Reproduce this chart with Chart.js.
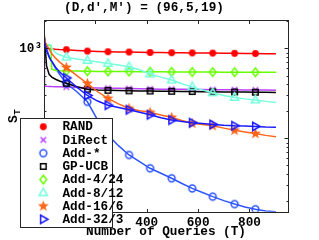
<!DOCTYPE html>
<html><head><meta charset="utf-8">
<script src="https://cdn.jsdelivr.net/npm/chart.js@4/dist/chart.umd.min.js"></script>
<style>html,body{margin:0;padding:0;background:#fff;overflow:hidden}</style>
</head><body>
<canvas id="c" width="319" height="240"></canvas>
<script>
// ---- data ----
const queries = [0,2,5,10,20,27,30,45,60,87,128,169,209,249,290,331,372,413,455,497,537,577,617,657,700,742,782,823,863,903];
const markerQueries = [87,169,249,331,413,497,577,657,742,823];
const seriesNames = ['RAND','DiRect','Add-*','GP-UCB','Add-4/24','Add-8/12','Add-16/6','Add-32/3'];
const randS   = [1300,1150,1060,1020,1000,990,988,980,975,970,950,935,925,920,915,912,908,903,900,897,895,893,890,888,885,883,880,878,875,872];
const directS = [900,380,380,379,378,378,377,376,375,372,369,366,364,362,360,358,356,354,353,352,351,350,349,348,347,347,346,345,345,344];
const addStarS= [1350,1250,1150,1000,820,750,720,600,520,408,330,255,160,109,83,65.4,55,46.5,41,36,31.5,27.8,25,22.5,20.3,18.6,17.3,16.3,15.6,15.3];
const gpucbS  = [1300,1200,1000,640,515,490,480,455,435,410,375,352,345,342,340,338,337,336,335,334,333,332,331,330,329,328,327,326,325,324];
const add4S   = [1150,1120,1100,1090,1080,1070,590,570,565,562,560,558,556,555,554,553,552,551,550,549,548,547,546,546,545,545,544,544,543,543];
const add8S   = [1250,1150,1120,1110,1100,1090,1000,900,850,800,765,735,705,680,655,625,580,520,480,445,405,374,345,321,300,285,275,267,258,251];
const add16S  = [1400,1250,1180,1100,980,910,880,780,710,615,500,408,330,278,242,216,203,195,182,171,158,147,143,138,130,123,118,113,108,104];
const add32S  = [1300,1200,1100,950,800,740,720,620,550,470,370,300,260,234,220,208,195,183,170,160,154,149,146,143,140,138,137,136,134,133];
const xTickValues = [0,200,400,600,800];
const titleText = '(D,d\u2032,M\u2032) = (96,5,19)';
const xTitle = 'Number of Queries (T)';

const seriesValues = [randS, directS, addStarS, gpucbS, add4S, add8S, add16S, add32S];
const colors  = ['#ff0000','#b940ff','#2e55ff','#000000','#66ff00','#77ffdd','#ff6619','#1a1aff'];
const markers = ['dot','x','o','s','d','^','p','>'];

const FONT = "'Liberation Mono', 'DejaVu Sans Mono', monospace";

function makeMarker(type, color) {
  const S = 15, c = document.createElement('canvas');
  c.width = S; c.height = S;
  const g = c.getContext('2d');
  const m = S / 2;
  g.strokeStyle = color; g.fillStyle = color; g.lineWidth = 1.5;
  g.beginPath();
  if (type === 'dot') { g.arc(m, m, 3.4, 0, Math.PI * 2); g.fill(); }
  else if (type === 'x') { const r = 2.8; g.moveTo(m-r,m-r); g.lineTo(m+r,m+r); g.moveTo(m+r,m-r); g.lineTo(m-r,m+r); g.stroke(); }
  else if (type === 'o') { g.arc(m, m, 3.4, 0, Math.PI * 2); g.stroke(); }
  else if (type === 's') { g.rect(m-2.8, m-2.8, 5.6, 5.6); g.stroke(); }
  else if (type === 'd') { const r = 4.2; g.moveTo(m, m-r); g.lineTo(m+r*0.8, m); g.lineTo(m, m+r); g.lineTo(m-r*0.8, m); g.closePath(); g.stroke(); }
  else if (type === '^') { const r = 4.6; g.moveTo(m, m-r); g.lineTo(m+r*0.9, m+r*0.6); g.lineTo(m-r*0.9, m+r*0.6); g.closePath(); g.stroke(); }
  else if (type === '>') { const r = 4.6; g.moveTo(m+r, m); g.lineTo(m-r*0.6, m-r*0.9); g.lineTo(m-r*0.6, m+r*0.9); g.closePath(); g.stroke(); }
  else if (type === 'p') {
    const R = 5.8, r = 2.4;
    for (let i = 0; i < 10; i++) {
      const a = -Math.PI/2 + i * Math.PI / 5, rr = i % 2 ? r : R;
      const px = m + rr * Math.cos(a), py = m + rr * Math.sin(a);
      i ? g.lineTo(px, py) : g.moveTo(px, py);
    }
    g.closePath(); g.fill();
  }
  return c;
}
const markerImgs = markers.map((t, i) => makeMarker(t, colors[i]));

const datasets = seriesNames.map((name, i) => ({
  label: name,
  data: queries.map((q, j) => ({x: q, y: seriesValues[i][j]})),
  borderColor: colors[i],
  backgroundColor: colors[i],
  borderWidth: 1.5,
  pointStyle: markerImgs[i],
  pointRadius: ctx => markerQueries.includes(queries[ctx.dataIndex]) ? 4 : 0,
  pointHoverRadius: 0,
  tension: 0,
  order: seriesNames.length - i
}));

const decorPlugin = {
  id: 'decor',
  afterDraw(chart) {
    const {ctx, chartArea: a, scales: {x, y}} = chart;
    ctx.save();
    // frame
    ctx.strokeStyle = '#262626'; ctx.lineWidth = 1;
    const L = Math.round(a.left) + 0.5, R = Math.round(a.right) + 0.5, T = Math.round(a.top) + 0.5, B = Math.round(a.bottom) + 0.5;
    ctx.strokeRect(L, T, R - L, B - T);
    ctx.beginPath();
    xTickValues.forEach(v => {
      const px = Math.round(x.getPixelForValue(v)) + 0.5;
      ctx.moveTo(px, B); ctx.lineTo(px, B - 3.5);
      ctx.moveTo(px, T); ctx.lineTo(px, T + 3.5);
    });
    for (let d = 10; d <= 1000; d *= 10) {
      for (let k = 1; k <= 9; k++) {
        const v = d * k;
        if (v < y.min || v > y.max) continue;
        const len = k === 1 ? 4 : 2;
        const py = Math.round(y.getPixelForValue(v)) + 0.5;
        ctx.moveTo(L, py); ctx.lineTo(L + len, py);
        ctx.moveTo(R, py); ctx.lineTo(R - len, py);
      }
    }
    ctx.stroke();
    // legend
    const lg = {x: 20, y: 118, w: 92, h: 109};
    ctx.fillStyle = '#fff'; ctx.fillRect(lg.x, lg.y, lg.w, lg.h);
    ctx.strokeStyle = '#262626'; ctx.strokeRect(lg.x + 0.5, lg.y + 0.5, lg.w, lg.h);
    ctx.font = 'bold 12.7px ' + FONT;
    ctx.textBaseline = 'middle'; ctx.textAlign = 'left'; ctx.fillStyle = '#000';
    seriesNames.forEach((n, i) => {
      const ry = 126.7 + i * 13.23;
      const img = markerImgs[i];
      ctx.drawImage(img, 43.3 - img.width / 2, ry - img.height / 2);
      ctx.fillText(n, 62.5, ry + 0.5);
    });
    // y label S_T
    ctx.translate(14, 119); ctx.rotate(-Math.PI / 2);
    ctx.font = 'bold 13px ' + FONT; ctx.textAlign = 'center';
    ctx.fillText('S', 0, 0);
    ctx.font = 'bold 9px ' + FONT;
    ctx.fillText('T', 7, 4);
    ctx.restore();
  }
};

new Chart(document.getElementById('c'), {
  type: 'line',
  data: {datasets},
  options: {
    responsive: false, animation: false, devicePixelRatio: 1,
    events: [],
    layout: {padding: {left: 0, right: 31, top: 0, bottom: 0}},
    plugins: {
      legend: {display: false}, tooltip: {enabled: false},
      title: {display: true, text: titleText, color: '#000',
        font: {family: FONT, weight: 'bold', size: 12.7}, padding: {top: 0, bottom: 5}}
    },
    scales: {
      x: {type: 'linear', min: 0, max: 950,
        afterFit: s => { s.height = 28.3; },
        grid: {display: false, drawTicks: false}, border: {display: false},
        ticks: {stepSize: 200, includeBounds: false, padding: 3, maxRotation: 0, color: '#000',
          font: {family: FONT, weight: 'bold', size: 12.7}},
        title: {display: true, text: xTitle, color: '#000',
          font: {family: FONT, weight: 'bold', size: 12.7}, padding: {top: 0, bottom: 0.8}}
      },
      y: {type: 'logarithmic', min: 15.3, max: 2060,
        afterFit: s => { s.width = 44; },
        grid: {display: false, drawTicks: false}, border: {display: false},
        ticks: {autoSkip: false, includeBounds: false, padding: 2, color: '#000',
          font: {family: FONT, weight: 'bold', size: 12.7},
          callback: v => v === 1000 ? '10\u00b3' : (v === 100 ? '10\u00b2' : '')}
      }
    }
  },
  plugins: [decorPlugin]
});
</script>
</body></html>
